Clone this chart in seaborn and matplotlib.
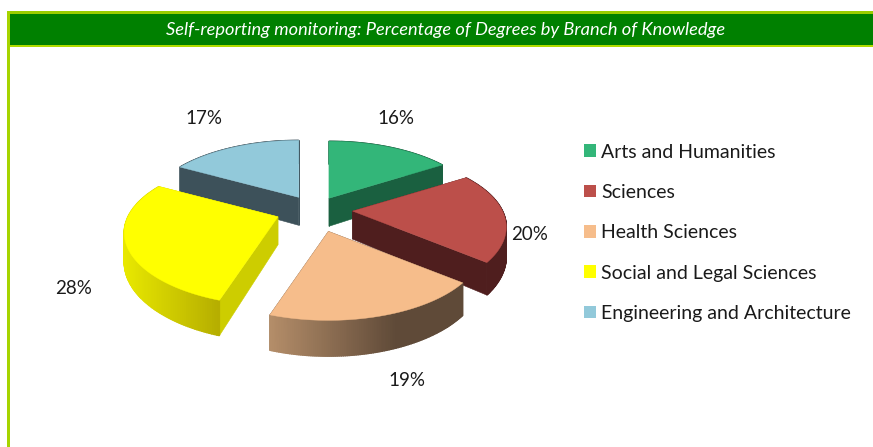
import numpy as np
import matplotlib
matplotlib.use("Agg")
import matplotlib.pyplot as plt
from matplotlib.colors import to_rgb
from matplotlib.patches import Patch, Rectangle
import seaborn as sns

# data
title = "Self-reporting monitoring: Percentage of Degrees by Branch of Knowledge"
branches = ["Arts and Humanities", "Sciences", "Health Sciences",
            "Social and Legal Sciences", "Engineering and Architecture"]
percent = [16, 20, 19, 28, 17]

# colours
top_colors = ["#33b679", "#bc4f4a", "#f6bd8b", "#ffff00", "#92c9da"]
cut_colors = ["#1a6040", "#4f1e1e", "#6a4f3a", "#cdcd00", "#3d515a"]
wall_left = ["#1a6040", "#4f1e1e", "#b48d69", "#e8e800", "#3d515a"]
wall_right = ["#1a6040", "#4f1e1e", "#5f4a38", "#b5ad00", "#3d515a"]
wall_stop = [1, 1, 0.65, 1, 1]  # where the rim shading reaches its dark end

# layout, in pixels of the picture
explode = [0.20, 0.25, 0.30, 0.26, 0.22]
label_xy = [(396, 118), (530, 234), (407, 380), (74, 288), (204, 119)]
cx, cy = 315, 210
rx, ry, persp, depth = 150, 69.5, 0.219, 28

sns.set_theme(style="white")
plt.rcParams["font.family"] = ["Lato", "DejaVu Sans"]

fig = plt.figure(figsize=(8.73, 4.47), dpi=100)
ax = fig.add_axes([0, 0, 1, 1])
ax.set_xlim(0, 873)
ax.set_ylim(447, 0)
ax.axis("off")

# frame and header
ax.add_patch(Rectangle((7, 11), 866, 3, color="#9acd00", lw=0))
ax.add_patch(Rectangle((7, 11), 3, 436, color="#a6d400", lw=0))
ax.add_patch(Rectangle((10, 14), 863, 31, color="#008000", lw=0))
ax.add_patch(Rectangle((10, 45), 863, 2, color="#b0dc00", lw=0))
ax.text(446, 30.5, title, color="white", style="italic", fontsize=13.15,
        ha="center", va="center")


def project(angle, r=1.0):
    # angle in degrees clockwise from 12 o'clock, returns screen offset
    x = r * np.sin(np.radians(angle))
    y = r * np.cos(np.radians(angle))
    d = 1 + persp * y
    return rx * x / d, -ry * y / d, depth / d


def draw_slice(i, a0, a1):
    ex, ey, _ = project((a0 + a1) / 2, explode[i])
    ax0, ay0 = cx + ex, cy + ey
    angles = np.linspace(a0, a1, 120)
    px, py, pd = project(angles)
    px, py = ax0 + px, ay0 + py

    # cut faces
    for k in (0, -1):
        ax.fill([ax0, px[k], px[k], ax0],
                [ay0, py[k], py[k] + pd[k], ay0 + depth],
                color=cut_colors[i], lw=0.4)

    # rim, shaded from left to right
    lo, hi = px.min(), px.max()
    c0, c1 = np.array(to_rgb(wall_left[i])), np.array(to_rgb(wall_right[i]))
    for j in range(len(px) - 1):
        t = (0.5 * (px[j] + px[j + 1]) - lo) / (hi - lo)
        c = c0 + (c1 - c0) * min(t / wall_stop[i], 1)
        ax.fill([px[j], px[j + 1], px[j + 1], px[j]],
                [py[j], py[j + 1], py[j + 1] + pd[j + 1], py[j] + pd[j]],
                color=c, lw=1.0)

    # top
    ax.fill(np.r_[ax0, px], np.r_[ay0, py], color=top_colors[i], lw=0.3)


edges = np.r_[0, np.cumsum(percent)] / sum(percent) * 360
for i in [4, 0, 1, 3, 2]:  # back to front
    draw_slice(i, edges[i], edges[i + 1])

for v, (x, y) in zip(percent, label_xy):
    ax.text(x, y, f"{v}%", fontsize=13.5, color="#1a1a1a", ha="center", va="center")

handles = [Patch(color=c, lw=0) for c in sns.color_palette(top_colors)]
ax.legend(handles, branches, loc="upper left", bbox_to_anchor=(584 / 873, 1 - 143.5 / 447),
          frameon=False, fontsize=14, handlelength=0.62, handleheight=0.62,
          handletextpad=0.26, labelspacing=1.2, labelcolor="#1a1a1a",
          borderpad=0, borderaxespad=0)

plt.savefig("out.png", dpi=100)
